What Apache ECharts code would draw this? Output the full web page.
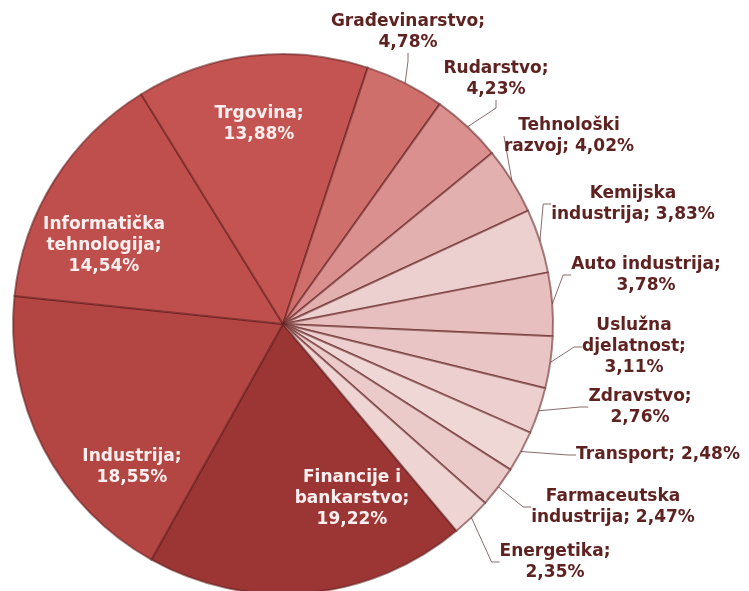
<!DOCTYPE html>
<html>
<head>
<meta charset="utf-8">
<script src="https://cdn.jsdelivr.net/npm/echarts@6/dist/echarts.min.js"></script>
<style>
  html, body { margin: 0; padding: 0; background: #fff; }
  #chart { width: 749px; height: 591px; }
</style>
</head>
<body>
<div id="chart"></div>
<script>
// sorted largest first, drawn clockwise
const categories = ['Financije i bankarstvo', 'Industrija', 'Informatička tehnologija', 'Trgovina',
  'Građevinarstvo', 'Rudarstvo', 'Tehnološki razvoj', 'Kemijska industrija', 'Auto industrija',
  'Uslužna djelatnost', 'Zdravstvo', 'Transport', 'Farmaceutska industrija', 'Energetika']
const values = [19.22, 18.55, 14.54, 13.88, 4.78, 4.23, 4.02, 3.83, 3.78, 3.11, 2.76, 2.48, 2.47, 2.35]
// how each label wraps, {v} is the value
const labelTemplates = ['Financije i\nbankarstvo;\n{v}', 'Industrija;\n{v}', 'Informatička\ntehnologija;\n{v}',
  'Trgovina;\n{v}', 'Građevinarstvo;\n{v}', 'Rudarstvo;\n{v}', 'Tehnološki\nrazvoj; {v}',
  'Kemijska\nindustrija; {v}', 'Auto industrija;\n{v}', 'Uslužna\ndjelatnost;\n{v}', 'Zdravstvo;\n{v}',
  'Transport; {v}', 'Farmaceutska\nindustrija; {v}', 'Energetika;\n{v}']

// label centres (px), like the excel chart put them
const labelPos = [[352, 499], [132, 467], [104, 246], [259, 124], [408, 32], [496, 79], [569, 136],
  [633, 204], [646, 275], [634, 347], [640, 407], [658, 455], [613, 507], [555, 562]]
const colors = ['#9c3634', '#b34543', '#bf4f4c', '#c45451', '#cf6f6c', '#d9908e', '#e2b0ae', '#ecd0cf',
  '#e7bfbe', '#e9c6c5', '#eccfce', '#efd7d6', '#eacbca', '#eed5d4']
const insideCount = 4

const chart = echarts.init(document.getElementById('chart'))

const data = categories.map((name, i) => ({
  name: name,
  value: values[i],
  itemStyle: { color: colors[i] },
  label: {
    position: i < insideCount ? 'inside' : 'outside',
    color: i < insideCount ? '#fbefef' : '#5e2221'
  },
  labelLine: { show: i >= insideCount }
}))

chart.setOption({
  animation: false,
  series: [{
    type: 'pie',
    center: [283, 324],
    radius: 270,
    startAngle: -50,
    clockwise: true,
    avoidLabelOverlap: false,
    data: data,
    itemStyle: {
      borderColor: 'rgba(95,30,30,0.55)',
      borderWidth: 2
    },
    label: {
      fontFamily: 'DejaVu Sans',
      fontWeight: 'bold',
      fontSize: 17,
      lineHeight: 21,
      formatter: (p) => labelTemplates[p.dataIndex].replace('{v}', p.value.toFixed(2).replace('.', ',') + '%')
    },
    labelLine: {
      length: 10,
      length2: 8,
      lineStyle: { color: '#8a6a6a', width: 1 }
    },
    labelLayout: (p) => {
      const c = labelPos[p.dataIndex]
      return { x: c[0], y: c[1], align: 'center', verticalAlign: 'middle' }
    }
  }]
})
</script>
</body>
</html>
